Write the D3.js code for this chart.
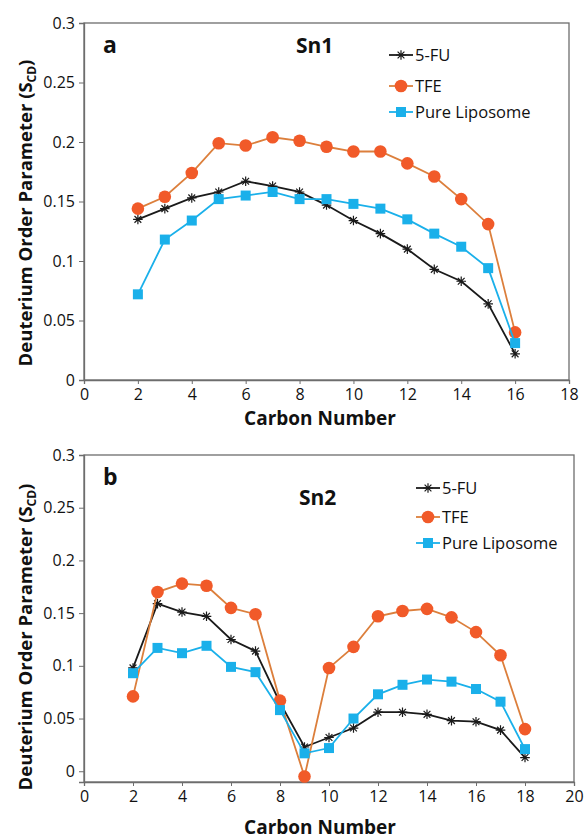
<!DOCTYPE html>
<html>
<head>
  <title>Deuterium Order Parameter</title>
  <style>
    body { margin: 0; background: #fff; }
    text { font-family: 'Open Sans', 'Noto Sans', sans-serif; fill: #111; }
  </style>
</head>
<body>
  <div id="chart-container"></div>
  <script src="https://d3js.org/d3.v7.min.js"></script>
  <script>
    // Sn1 chain (panel a)
    const carbonsA = [2, 3, 4, 5, 6, 7, 8, 9, 10, 11, 12, 13, 14, 15, 16];
    const fuA = [0.135, 0.144, 0.153, 0.158, 0.167, 0.163, 0.158, 0.147, 0.134, 0.123, 0.110, 0.093, 0.083, 0.064, 0.022];
    const tfeA = [0.144, 0.154, 0.174, 0.199, 0.197, 0.204, 0.201, 0.196, 0.192, 0.192, 0.182, 0.171, 0.152, 0.131, 0.040];
    const pureA = [0.072, 0.118, 0.134, 0.152, 0.155, 0.158, 0.152, 0.152, 0.148, 0.144, 0.135, 0.123, 0.112, 0.094, 0.031];

    // Sn2 chain (panel b)
    const carbonsB = [2, 3, 4, 5, 6, 7, 8, 9, 10, 11, 12, 13, 14, 15, 16, 17, 18];
    const fuB = [0.098, 0.159, 0.151, 0.147, 0.125, 0.114, 0.065, 0.023, 0.032, 0.041, 0.056, 0.056, 0.054, 0.048, 0.047, 0.039, 0.013];
    const tfeB = [0.071, 0.170, 0.178, 0.176, 0.155, 0.149, 0.067, -0.005, 0.098, 0.118, 0.147, 0.152, 0.154, 0.146, 0.132, 0.110, 0.040];
    const pureB = [0.093, 0.117, 0.112, 0.119, 0.099, 0.094, 0.058, 0.017, 0.022, 0.050, 0.073, 0.082, 0.087, 0.085, 0.078, 0.066, 0.021];

    const seriesNames = ['5-FU', 'TFE', 'Pure Liposome'];
    const yTicks = [0, 0.05, 0.1, 0.15, 0.2, 0.25, 0.3];
    const xTicksA = [0, 2, 4, 6, 8, 10, 12, 14, 16, 18];
    const xTicksB = [0, 2, 4, 6, 8, 10, 12, 14, 16, 18, 20];

    const styles = {
      '5-FU': { line: '#1a1a1a', fill: '#1a1a1a', marker: 'star' },
      'TFE': { line: '#dc7f3c', fill: '#f15a29', marker: 'circle' },
      'Pure Liposome': { line: '#1ab0ea', fill: '#1ab0ea', marker: 'square' }
    };

    const width = 585;
    const height = 840;

    const svg = d3.select('#chart-container')
      .append('svg')
      .attr('width', width)
      .attr('height', height);

    function starPath(r) {
      const d = r * Math.SQRT1_2;
      return `M0,${-r}L0,${r}M${-d},${-d}L${d},${d}M${-d},${d}L${d},${-d}M${-r},0L${r},0`;
    }

    function drawMarker(g, type, style) {
      if (type === 'circle') {
        g.append('circle').attr('r', 6.3).attr('fill', style.fill);
      } else if (type === 'square') {
        g.append('rect').attr('x', -5).attr('y', -5).attr('width', 10).attr('height', 10).attr('fill', style.fill);
      } else {
        g.append('path').attr('d', starPath(4.8)).attr('stroke', style.fill).attr('stroke-width', 1.2).attr('fill', 'none');
      }
    }

    function drawPanel(opt) {
      const g = svg.append('g');
      const x = d3.scaleLinear().domain(opt.xDomain).range([opt.left, opt.right]);
      const y = d3.scaleLinear().domain(opt.yDomain).range([opt.bottom, opt.top]);

      // frame
      g.append('rect')
        .attr('x', opt.left).attr('y', opt.top)
        .attr('width', opt.right - opt.left).attr('height', opt.bottom - opt.top)
        .attr('fill', 'none').attr('stroke', '#6d6d6d').attr('stroke-width', 1.3);

      const xAxis = d3.axisBottom(x).tickValues(opt.xTicks).tickSize(4).tickFormat(d3.format('d'));
      const yAxis = d3.axisLeft(y).tickValues(yTicks).tickSize(5).tickFormat(d => d === 0 ? '0' : String(+d.toFixed(2)));

      const xg = g.append('g').attr('transform', `translate(0,${opt.bottom})`).call(xAxis);
      const yg = g.append('g').attr('transform', `translate(${opt.left},0)`).call(yAxis);
      [xg, yg].forEach(a => {
        a.select('.domain').attr('stroke', '#6d6d6d').attr('stroke-width', 1.3);
        a.selectAll('.tick line').attr('stroke', '#6d6d6d');
        a.selectAll('.tick text').attr('font-size', 16).attr('fill', '#111')
          .style('font-family', "'Open Sans', sans-serif");
      });
      xg.selectAll('.tick text').attr('y', 0).attr('dy', 0)
        .attr('transform', `translate(0,${opt.tickBase})`);
      yg.selectAll('.tick text').attr('x', -9);

      // lines and markers
      opt.series.forEach((vals, i) => {
        const name = seriesNames[i];
        const st = styles[name];
        const pts = opt.carbons.map((c, j) => ({ c, v: vals[j] }));
        g.append('path')
          .datum(pts)
          .attr('fill', 'none')
          .attr('stroke', st.line)
          .attr('stroke-width', 1.8)
          .attr('d', d3.line().x(d => x(d.c)).y(d => y(d.v)));
        g.selectAll(null)
          .data(pts)
          .enter()
          .append('g')
          .attr('transform', d => `translate(${x(d.c)},${y(d.v)})`)
          .each(function () { drawMarker(d3.select(this), st.marker, st); });
      });

      // panel letter and chain label
      g.append('text').attr('x', opt.left + 19).attr('y', opt.top + 30)
        .attr('font-size', 23).attr('font-weight', 'bold').text(opt.letter);
      g.append('text').attr('x', opt.chainX).attr('y', opt.chainY)
        .attr('font-size', 21).attr('font-weight', 'bold').text(opt.chain);

      // legend
      const leg = g.append('g');
      seriesNames.forEach((name, i) => {
        const st = styles[name];
        const yy = opt.legY[i];
        const item = leg.append('g').attr('transform', `translate(${opt.legX},${yy})`);
        item.append('line').attr('x1', 0).attr('x2', 24).attr('y1', 0).attr('y2', 0)
          .attr('stroke', st.line).attr('stroke-width', 1.8);
        const m = item.append('g').attr('transform', 'translate(12,0)');
        drawMarker(m, st.marker, st);
        item.append('text').attr('x', 26).attr('y', 0).attr('dy', '0.35em')
          .attr('font-size', 16.5).text(name);
      });

      // axis titles
      g.append('text')
        .attr('x', opt.xTitleX).attr('y', opt.xTitleY)
        .attr('text-anchor', 'middle').attr('font-size', 19).attr('font-weight', 'bold')
        .text('Carbon Number');

      const yt = g.append('text')
        .attr('transform', `translate(32,${opt.yTitleY}) rotate(-90)`)
        .attr('text-anchor', 'middle').attr('font-size', 18.5).attr('font-weight', 'bold');
      yt.append('tspan').text('Deuterium Order Parameter (S');
      yt.append('tspan').attr('font-size', 12).attr('dy', 4).text('CD');
      yt.append('tspan').attr('dy', -4).text(')');
    }

    drawPanel({
      left: 84, right: 569, top: 23, bottom: 380,
      xDomain: [0, 18], yDomain: [0, 0.3], xTicks: xTicksA, tickBase: 20,
      carbons: carbonsA, series: [fuA, tfeA, pureA],
      letter: 'a', chain: 'Sn1', chainX: 296, chainY: 53,
      legX: 389, legY: [55, 86, 112],
      xTitleX: 320, xTitleY: 425, yTitleY: 213
    });

    drawPanel({
      left: 84, right: 574, top: 455, bottom: 782,
      xDomain: [0, 20], yDomain: [-0.0102, 0.3], xTicks: xTicksB, tickBase: 20,
      carbons: carbonsB, series: [fuB, tfeB, pureB],
      letter: 'b', chain: 'Sn2', chainX: 299, chainY: 505,
      legX: 416, legY: [488, 517, 543],
      xTitleX: 320, xTitleY: 834, yTitleY: 637
    });
  </script>
</body>
</html>
